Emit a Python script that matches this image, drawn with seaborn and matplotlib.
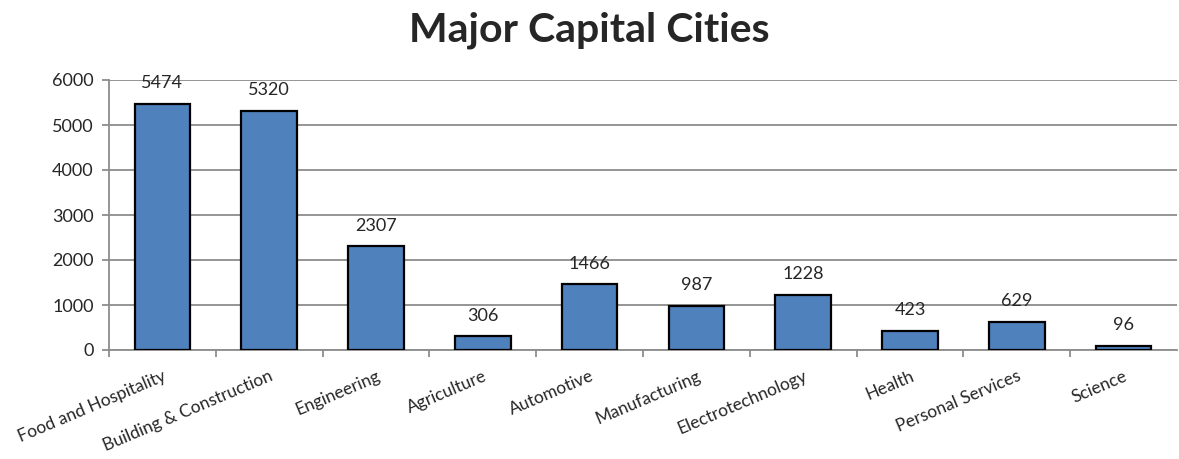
import matplotlib
matplotlib.use("Agg")
import matplotlib.pyplot as plt
import seaborn as sns
import pandas as pd

categories = ["Food and Hospitality", "Building & Construction", "Engineering",
              "Agriculture", "Automotive", "Manufacturing", "Electrotechnology",
              "Health", "Personal Services", "Science"]
values = [5474, 5320, 2307, 306, 1466, 987, 1228, 423, 629, 96]
y_ticks = [0, 1000, 2000, 3000, 4000, 5000, 6000]
title = "Major Capital Cities"

sns.set_theme(style="white")
plt.rcParams["font.family"] = ["Lato", "DejaVu Sans"]

df = pd.DataFrame({"category": categories, "count": values})

fig = plt.figure(figsize=(11.79, 4.59), dpi=100)
ax = fig.add_axes([109 / 1179, 1 - 350 / 459, (1177 - 109) / 1179, 270 / 459])

sns.barplot(data=df, x="category", y="count", ax=ax, color="#4F81BD",
            saturation=1, width=0.52, edgecolor="black", linewidth=1.6, zorder=3)

ax.set_ylim(0, 6000)
ax.set_xlim(-0.5, len(categories) - 0.5)
ax.set_yticks(y_ticks)
ax.set_yticklabels([str(t) for t in y_ticks], fontsize=13)
ax.yaxis.grid(True, color="#8C8C8C", linewidth=1.3, zorder=0)
ax.set_axisbelow(True)

for side in ("top", "right"):
    ax.spines[side].set_visible(False)
for side in ("left", "bottom"):
    ax.spines[side].set_color("#8C8C8C")
    ax.spines[side].set_linewidth(1.3)

# category ticks sit between bars
ax.set_xticks([i - 0.5 for i in range(len(categories))], minor=True)
ax.set_xticks(range(len(categories)))
ax.set_xticklabels(categories, rotation=23, ha="right", rotation_mode="anchor",
                   fontsize=12.5)
ax.tick_params(axis="x", which="major", length=0, pad=13)
ax.tick_params(axis="x", which="minor", length=5, width=1.3, color="#8C8C8C",
               direction="out", bottom=True)
ax.tick_params(axis="y", length=5, width=1.3, color="#8C8C8C", direction="out",
               left=True, pad=6)
ax.set_xlabel("")
ax.set_ylabel("")

for i, v in enumerate(values):
    ax.annotate(str(v), (i, v), xytext=(0, 9), textcoords="offset points",
                ha="center", va="bottom", fontsize=13)

fig.suptitle(title, fontsize=29.5, fontweight="bold", y=0.975, x=0.5)

fig.savefig("out.png", dpi=100)
